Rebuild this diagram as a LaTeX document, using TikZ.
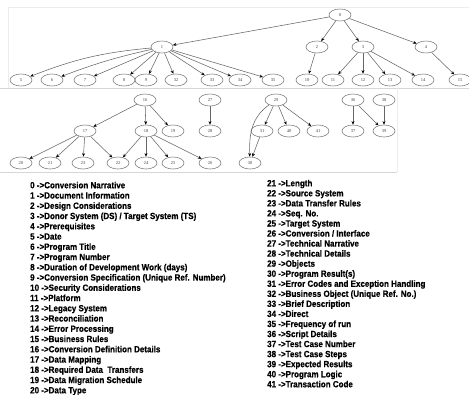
\documentclass[tikz,border=0pt]{standalone}
\usepackage{fontspec}
\setmainfont{Liberation Serif}
\newfontfamily\legendfont[FakeStretch=0.89,BoldFeatures={FakeBold=0.5}]{Liberation Sans}
\usetikzlibrary{arrows.meta,shapes.geometric}
\tikzset{
  gn/.style={ellipse,draw=black!50,line width=0.6pt,minimum width=22pt,minimum height=12pt,inner sep=0pt,
    font=\fontsize{4.5}{5}\selectfont,text=black!75},
  ge/.style={draw=black!60,line width=0.55pt,-{Stealth[length=3.6pt,width=3pt,black]}},
  lg/.style={anchor=base west,inner sep=0pt,font=\legendfont\bfseries\fontsize{9}{10}\selectfont,text=black},
  panel/.style={draw=black!16,line width=0.6pt}
}
\begin{document}
\begin{tikzpicture}[x=1pt,y=1pt]
\useasboundingbox (0,0) rectangle (469,-394);
% panel edges
\draw[draw=black!7] (8,-7) -- (469,-7);
\draw[draw=black!7] (8,-7) -- (8,-88);
\draw[panel] (0,-88) -- (469,-88);
\draw[panel] (0,-172) -- (397,-172);
\draw[draw=black!7] (397,-88) -- (397,-172);
% graph nodes
\foreach \n/\x/\y in {0/340/15,1/162/47,2/317/47,3/363/47,4/426/47,
  5/21/80,6/52/80,7/85/80,8/124/80,9/146/80,32/176/80,33/212/80,34/240/80,35/273/80,
  10/307/80,11/333/80,12/363/80,13/390/80,14/423/80,15/460/80,
  16/145/100,27/210/100,17/85/131,18/146/131,19/173/131,28/210/131,
  20/21/163,21/50/163,23/83/163,22/118/163,24/146/163,25/173/163,26/210/163,
  29/276/100,31/262/131,40/289/131,41/318/131,30/250/163,
  36/353/100,38/384/100,37/353/131,39/384/131}
  \node[gn] (n\n) at (\x,-\y) {\n};
% edges
\draw[ge] (n1) to[bend right=8] (n5);
\draw[ge] (n1) to[bend right=4] (n6);
\foreach \a/\b in {0/1,0/2,0/3,0/4,1/7,1/8,1/9,1/32,1/33,1/34,1/35,2/10,3/11,3/12,3/13,3/14,4/15,
  16/17,16/18,16/19,27/28,17/20,17/21,17/23,17/22,18/22,18/24,18/25,18/26,
  29/31,29/40,29/41,31/30,36/37,36/39,38/39}
  \draw[ge] (n\a) -- (n\b);
\draw[ge] (n29) to[out=215,in=92] (n30);
% legend left
\node[lg] (l0) at (30,{-188.3-10.25*0}) {0 ->Conversion Narrative};
\node[lg] (l1) at (30,{-188.3-10.25*1}) {1 ->Document Information};
\node[lg] (l2) at (30,{-188.3-10.25*2}) {2 ->Design Considerations};
\node[lg] (l3) at (30,{-188.3-10.25*3}) {3 ->Donor System (DS) / Target System (TS)};
\node[lg] (l4) at (30,{-188.3-10.25*4}) {4 ->Prerequisites};
\node[lg] (l5) at (30,{-188.3-10.25*5}) {5 ->Date};
\node[lg] (l6) at (30,{-188.3-10.25*6}) {6 ->Program Title};
\node[lg] (l7) at (30,{-188.3-10.25*7}) {7 ->Program Number};
\node[lg] (l8) at (30,{-188.3-10.25*8}) {8 ->Duration of Development Work (days)};
\node[lg] (l9) at (30,{-188.3-10.25*9}) {9 ->Conversion Specification (Unique Ref. Number)};
\node[lg] (l10) at (30,{-188.3-10.25*10}) {10 ->Security Considerations};
\node[lg] (l11) at (30,{-188.3-10.25*11}) {11 ->Platform};
\node[lg] (l12) at (30,{-188.3-10.25*12}) {12 ->Legacy System};
\node[lg] (l13) at (30,{-188.3-10.25*13}) {13 ->Reconciliation};
\node[lg] (l14) at (30,{-188.3-10.25*14}) {14 ->Error Processing};
\node[lg] (l15) at (30,{-188.3-10.25*15}) {15 ->Business Rules};
\node[lg] (l16) at (30,{-188.3-10.25*16}) {16 ->Conversion Definition Details};
\node[lg] (l17) at (30,{-188.3-10.25*17}) {17 ->Data Mapping};
\node[lg] (l18) at (30,{-188.3-10.25*18}) {18 ->Required Data\ \ Transfers};
\node[lg] (l19) at (30,{-188.3-10.25*19}) {19 ->Data Migration Schedule};
\node[lg] (l20) at (30,{-188.3-10.25*20}) {20 ->Data Type};
% legend right
\node[lg] (l21) at (267,{-186.3-10.05*0}) {21 ->Length};
\node[lg] (l22) at (267,{-186.3-10.05*1}) {22 ->Source System};
\node[lg] (l23) at (267,{-186.3-10.05*2}) {23 ->Data Transfer Rules};
\node[lg] (l24) at (267,{-186.3-10.05*3}) {24 ->Seq. No.};
\node[lg] (l25) at (267,{-186.3-10.05*4}) {25 ->Target System};
\node[lg] (l26) at (267,{-186.3-10.05*5}) {26 ->Conversion / Interface};
\node[lg] (l27) at (267,{-186.3-10.05*6}) {27 ->Technical Narrative};
\node[lg] (l28) at (267,{-186.3-10.05*7}) {28 ->Technical Details};
\node[lg] (l29) at (267,{-186.3-10.05*8}) {29 ->Objects};
\node[lg] (l30) at (267,{-186.3-10.05*9}) {30 ->Program Result(s)};
\node[lg] (l31) at (267,{-186.3-10.05*10}) {31 ->Error Codes and Exception Handling};
\node[lg] (l32) at (267,{-186.3-10.05*11}) {32 ->Business Object (Unique Ref. No.)};
\node[lg] (l33) at (267,{-186.3-10.05*12}) {33 ->Brief Description};
\node[lg] (l34) at (267,{-186.3-10.05*13}) {34 ->Direct};
\node[lg] (l35) at (267,{-186.3-10.05*14}) {35 ->Frequency of run};
\node[lg] (l36) at (267,{-186.3-10.05*15}) {36 ->Script Details};
\node[lg] (l37) at (267,{-186.3-10.05*16}) {37 ->Test Case Number};
\node[lg] (l38) at (267,{-186.3-10.05*17}) {38 ->Test Case Steps};
\node[lg] (l39) at (267,{-186.3-10.05*18}) {39 ->Expected Results};
\node[lg] (l40) at (267,{-186.3-10.05*19}) {40 ->Program Logic};
\node[lg] (l41) at (267,{-186.3-10.05*20}) {41 ->Transaction Code};
\end{tikzpicture}
\end{document}
